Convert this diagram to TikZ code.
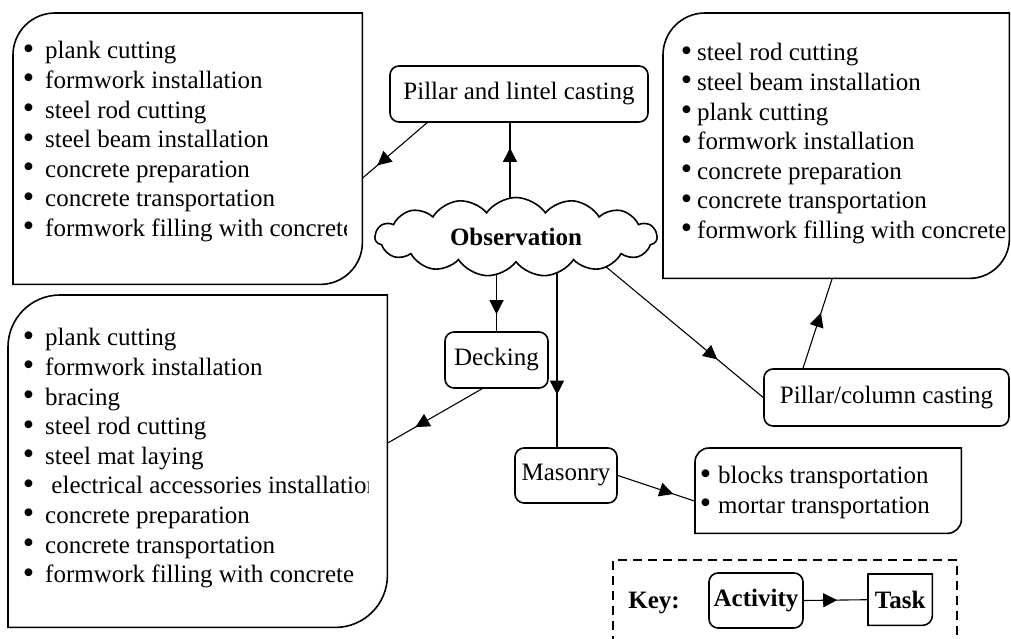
\documentclass[tikz,border=0pt]{standalone}
\usepackage{fontspec}
\setmainfont{Liberation Serif}
\usetikzlibrary{shapes.symbols,decorations.markings,arrows.meta,backgrounds,calc}

\newcommand\diagpath[3]{%
  \draw[line width=1.6pt, fill=white] (#1.south west) -- ([yshift=-#2]#1.north west)
    arc[start angle=180,end angle=90,radius=#2] -- (#1.north east)
    -- ([yshift=#3]#1.south east) arc[start angle=0,end angle=-90,radius=#3] -- cycle;}
\newcommand\bul[1]{\strut\makebox[#1][l]{\raisebox{-0.4pt}{\scalebox{1.3}{\textbullet}}}}

\tikzset{
  actbox/.style={draw, line width=1.6pt, rounded corners=9pt, fill=white, inner sep=0pt,
    font=\fontsize{25}{29.6}\selectfont},
  conn/.style={line width=1.1pt},
  midarrow/.style={postaction={decorate,decoration={markings,
      mark=at position #1 with {\arrow{Triangle[length=14pt,width=14pt]}}}}},
  taskframe/.style={rectangle, inner sep=0pt, draw=none, anchor=north west},
  listtext/.style={anchor=north west, inner sep=0pt, align=left,
    font=\fontsize{25}{29.6}\selectfont},
}

\begin{document}
\begin{tikzpicture}[x=1pt,y=-1pt]
\useasboundingbox (0,0) rectangle (1011,639);

% task boxes
\node[taskframe, minimum width=349pt, minimum height=271pt] (tl) at (13,13) {};
\diagpath{tl}{42pt}{42pt}
\begin{scope}
  \clip (13,13) rectangle (346,284);
  \node[listtext] (tlt) at (22.6,38) {\bul{22.4pt}plank cutting\\
    \bul{22.4pt}formwork installation\\
    \bul{22.4pt}steel rod cutting\\
    \bul{22.4pt}steel beam installation\\
    \bul{22.4pt}concrete preparation\\
    \bul{22.4pt}concrete transportation\\
    \bul{22.4pt}formwork filling with concrete};
\end{scope}

\node[taskframe, minimum width=346pt, minimum height=265pt] (tr) at (663,13) {};
\diagpath{tr}{42pt}{40pt}
\node[listtext] (trt) at (680.6,40) {\bul{16.4pt}steel rod cutting\\
    \bul{16.4pt}steel beam installation\\
    \bul{16.4pt}plank cutting\\
    \bul{16.4pt}formwork installation\\
    \bul{16.4pt}concrete preparation\\
    \bul{16.4pt}concrete transportation\\
    \bul{16.4pt}formwork filling with concrete};

\node[taskframe, minimum width=379pt, minimum height=332pt] (bl) at (8,295) {};
\diagpath{bl}{52pt}{52pt}
\begin{scope}
  \clip (8,295) rectangle (368,627);
  \node[listtext] (blt) at (22.6,325) {\bul{22.4pt}plank cutting\\
    \bul{22.4pt}formwork installation\\
    \bul{22.4pt}bracing\\
    \bul{22.4pt}steel rod cutting\\
    \bul{22.4pt}steel mat laying\\
    \bul{22.4pt} electrical accessories installation\\
    \bul{22.4pt}concrete preparation\\
    \bul{22.4pt}concrete transportation\\
    \bul{22.4pt}formwork filling with concrete};
\end{scope}

\node[taskframe, minimum width=266pt, minimum height=85pt] (mt) at (695,448) {};
\diagpath{mt}{14pt}{14pt}
\node[listtext] (mtt) at (699.6,463) {\bul{18.4pt}blocks transportation\\
    \bul{18.4pt}mortar transportation};

% activities
\node[cloud, draw, line width=1.6pt, fill=white, cloud puffs=15, cloud puff arc=110,
  cloud ignores aspect, minimum width=282pt, minimum height=79pt, inner sep=0pt,
  font=\bfseries\fontsize{25}{30}\selectfont] (ob) at (516,237) {Observation};
\node[actbox, minimum width=258pt, minimum height=56pt] (pl) at (519,94) {Pillar and lintel casting};
\node[actbox, minimum width=103pt, minimum height=56pt] (dk) at (496.5,360) {Decking};
\node[actbox, minimum width=102pt, minimum height=55pt] (ms) at (566,475.5) {Masonry};
\node[actbox, minimum width=245pt, minimum height=57pt] (pc) at (886.5,397.5) {Pillar/column casting};

% key
\begin{scope}
  \clip (0,0) rectangle (1011,639);
  \draw[line width=1.6pt, dash pattern=on 9pt off 6pt] (613,660) -- (613,560) -- (957,560) -- (957,660);
\end{scope}
\node[font=\bfseries\fontsize{25}{30}\selectfont, inner sep=0pt] (key) at (654,603) {Key:};
\node[actbox, minimum width=94pt, minimum height=55pt, font=\bfseries\fontsize{25}{30}\selectfont] (act) at (756,600.5) {Activity};
\node[taskframe, minimum width=64pt, minimum height=51pt] (tk) at (868,574) {};
\diagpath{tk}{0.01pt}{10pt}
\node[font=\bfseries\fontsize{25}{30}\selectfont, inner sep=0pt] (tkt) at (tk.center) {Task};

% connectors
\begin{pgfonlayer}{background}
  \draw[conn, midarrow=0.77] ([xshift=-92pt]pl.south) -- ([yshift=-29.5pt]tl.east);
  \draw[conn, midarrow=0.78] ([xshift=-6pt]ob.center) -- ([xshift=-9pt]pl.south);
  \draw[conn, midarrow=0.82] ([xshift=-19.5pt]ob.center) -- (dk.north);
  \draw[conn, midarrow=0.75] ([xshift=41pt]ob.center) -- ([xshift=-9pt]ms.north);
  \draw[conn, midarrow=0.71] ([xshift=89pt,yshift=-29pt]ob.center) -- (pc.west);
  \draw[conn, midarrow=0.705] ([xshift=-14.5pt]dk.south) -- ([yshift=18pt]bl.east);
  \draw[conn, midarrow=0.72] (ms.east) -- ([yshift=-10.5pt]mt.west);
  \draw[conn, midarrow=0.615] ([xshift=-83.5pt]pc.north) -- ([xshift=-4pt]tr.south);
  \draw[conn, midarrow=0.52] (act.east) -- (tk.west);
\end{pgfonlayer}
\end{tikzpicture}
\end{document}
